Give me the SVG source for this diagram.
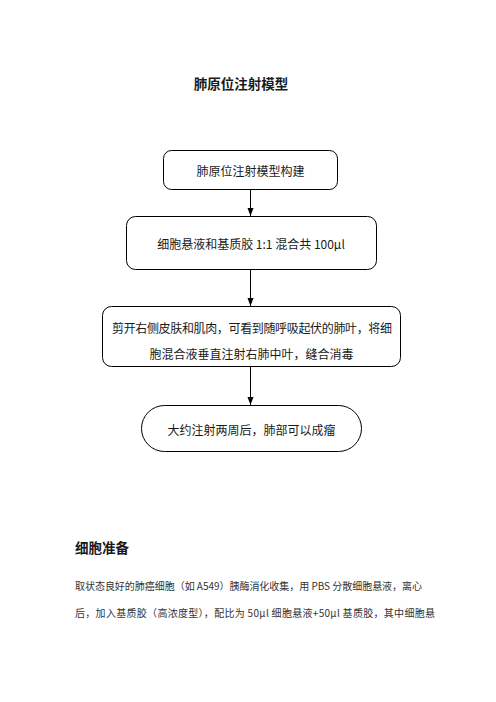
<svg xmlns="http://www.w3.org/2000/svg" width="496" height="702" viewBox="0 0 496 702">
<style>
text{font-family:"Noto Sans CJK SC","Noto Sans",sans-serif;fill:#1a1a1a}
.node{fill:#fff;stroke:#000;stroke-width:1}
.t{font-size:12px;text-anchor:middle;dominant-baseline:central}
.h{font-size:13.5px;font-weight:bold}
.p{font-size:10px;fill:#333}
.c{stroke:#000;stroke-width:1;fill:none;marker-end:url(#ah)}
</style>
<defs>
<marker id="ah" viewBox="0 0 8 8" refX="8" refY="4" markerWidth="8" markerHeight="8" markerUnits="userSpaceOnUse" orient="auto">
<path d="M0,1 L8,4 L0,7 Z" fill="#000"/>
</marker>
</defs>
<rect width="496" height="702" fill="#fff"/>
<text class="h" x="241" y="83" text-anchor="middle" dominant-baseline="central">肺原位注射模型</text>
<g id="connectors">
<line class="c" x1="250.5" y1="190" x2="250.5" y2="216"/>
<line class="c" x1="250.5" y1="269" x2="250.5" y2="306"/>
<line class="c" x1="250.5" y1="366" x2="250.5" y2="405"/>
</g>
<g id="n1">
<rect class="node" x="163.5" y="150.5" width="174" height="39" rx="8"/>
<text class="t" x="250.5" y="170">肺原位注射模型构建</text>
</g>
<g id="n2">
<rect class="node" x="126.5" y="216.5" width="250" height="53" rx="9"/>
<text class="t" x="251" y="243">细胞悬液和基质胶 1:1 混合共 100μl</text>
</g>
<g id="n3">
<rect class="node" x="102.5" y="306.5" width="298" height="60" rx="9"/>
<text class="t" x="252" y="327" textLength="280">剪开右侧皮肤和肌肉，可看到随呼吸起伏的肺叶，将细</text>
<text class="t" x="251.5" y="353">胞混合液垂直注射右肺中叶，缝合消毒</text>
</g>
<g id="n4">
<rect class="node" x="141.5" y="405.5" width="220" height="46" rx="23"/>
<text class="t" x="251.5" y="429">大约注射两周后，肺部可以成瘤</text>
</g>
<text class="h" x="75" y="547" dominant-baseline="central">细胞准备</text>
<text class="p" x="75" y="585" dominant-baseline="central" textLength="347">取状态良好的肺癌细胞（如 A549）胰酶消化收集，用 PBS 分散细胞悬液，离心</text>
<text class="p" x="75" y="612" dominant-baseline="central" textLength="360">后，加入基质胶（高浓度型），配比为 50μl 细胞悬液+50μl 基质胶，其中细胞悬</text>
</svg>
